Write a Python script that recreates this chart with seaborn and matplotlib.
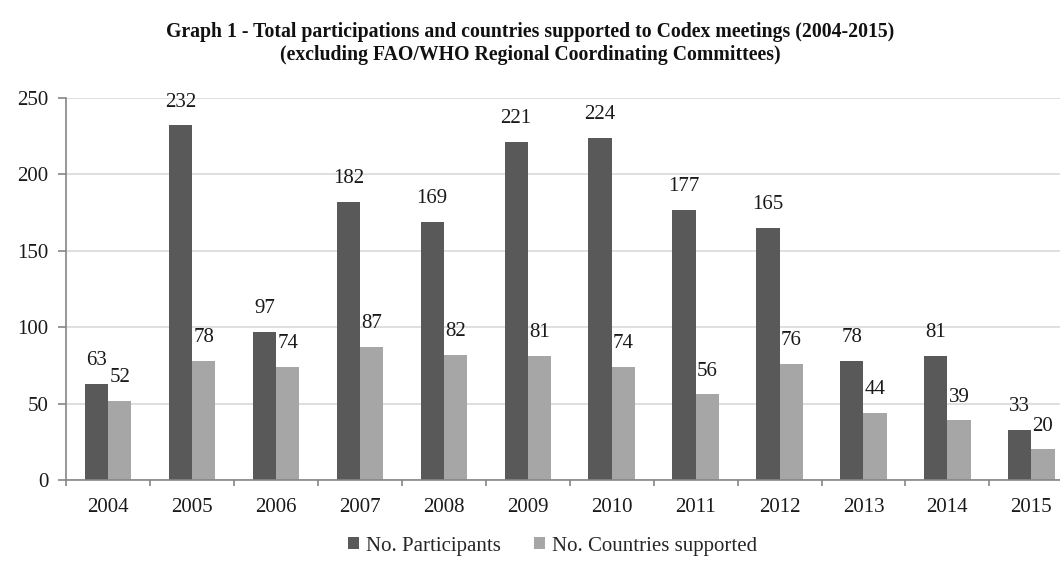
import matplotlib
matplotlib.use("Agg")
import matplotlib.pyplot as plt
import seaborn as sns
import pandas as pd
import numpy as np

years = ["2004", "2005", "2006", "2007", "2008", "2009", "2010", "2011", "2012", "2013", "2014", "2015"]
participants = [63, 232, 97, 182, 169, 221, 224, 177, 165, 78, 81, 33]
countries = [52, 78, 74, 87, 82, 81, 74, 56, 76, 44, 39, 20]
series_names = ["No. Participants", "No. Countries supported"]
colors = ["#595959", "#a6a6a6"]
title = ("Graph 1 - Total participations and countries supported to Codex meetings (2004-2015)\n"
         "(excluding FAO/WHO Regional Coordinating Committees)")

df = pd.DataFrame({
    "year": years * 2,
    "value": participants + countries,
    "series": [series_names[0]] * len(years) + [series_names[1]] * len(years),
})

sns.set_theme(style="white")
plt.rcParams["font.family"] = ["Liberation Serif", "DejaVu Serif"]

fig = plt.figure(figsize=(10.6, 5.69), dpi=100)
ax = fig.add_axes([0.0625, 0.1564, 0.950, 0.6714])

sns.barplot(data=df, x="year", y="value", hue="series", palette=colors,
            width=0.555, ax=ax, saturation=1, legend=True, gap=0, linewidth=0)

for cont in ax.containers:
    ax.bar_label(cont, padding=10, fontsize=15, color="#1a1a1a")

ax.set_ylim(0, 250)
ax.set_yticks([0, 50, 100, 150, 200, 250])
ax.set_xlim(-0.5, len(years) - 0.5)
ax.set_xticks(np.arange(-0.5, len(years)), minor=True)
ax.yaxis.grid(True, color="#d9d9d9", linewidth=1.2)
ax.set_axisbelow(True)
ax.set_xlabel("")
ax.set_ylabel("")
for s in ["top", "right"]:
    ax.spines[s].set_visible(False)
for s in ["left", "bottom"]:
    ax.spines[s].set_color("#868686")
    ax.spines[s].set_linewidth(1.2)
ax.tick_params(axis="both", labelsize=15, colors="#1a1a1a")
ax.tick_params(axis="y", left=True, length=6, width=1.2, color="#868686", pad=7)
ax.tick_params(axis="x", which="major", bottom=False, length=0, pad=13)
ax.tick_params(axis="x", which="minor", bottom=True, length=4.5, width=1.2,
               color="#868686", direction="out")

handles, labels = ax.get_legend_handles_labels()
ax.get_legend().remove()
fig.legend(handles, labels, loc="center", bbox_to_anchor=(0.521, 0.0404),
           ncol=2, frameon=False, fontsize=15, handlelength=0.55, handleheight=0.55,
           handletextpad=0.3, columnspacing=1.6)

fig.suptitle(title, fontsize=14.2, fontweight="bold", y=0.962, color="#111111",
             linespacing=1.2)

fig.savefig("out.png", dpi=100)
